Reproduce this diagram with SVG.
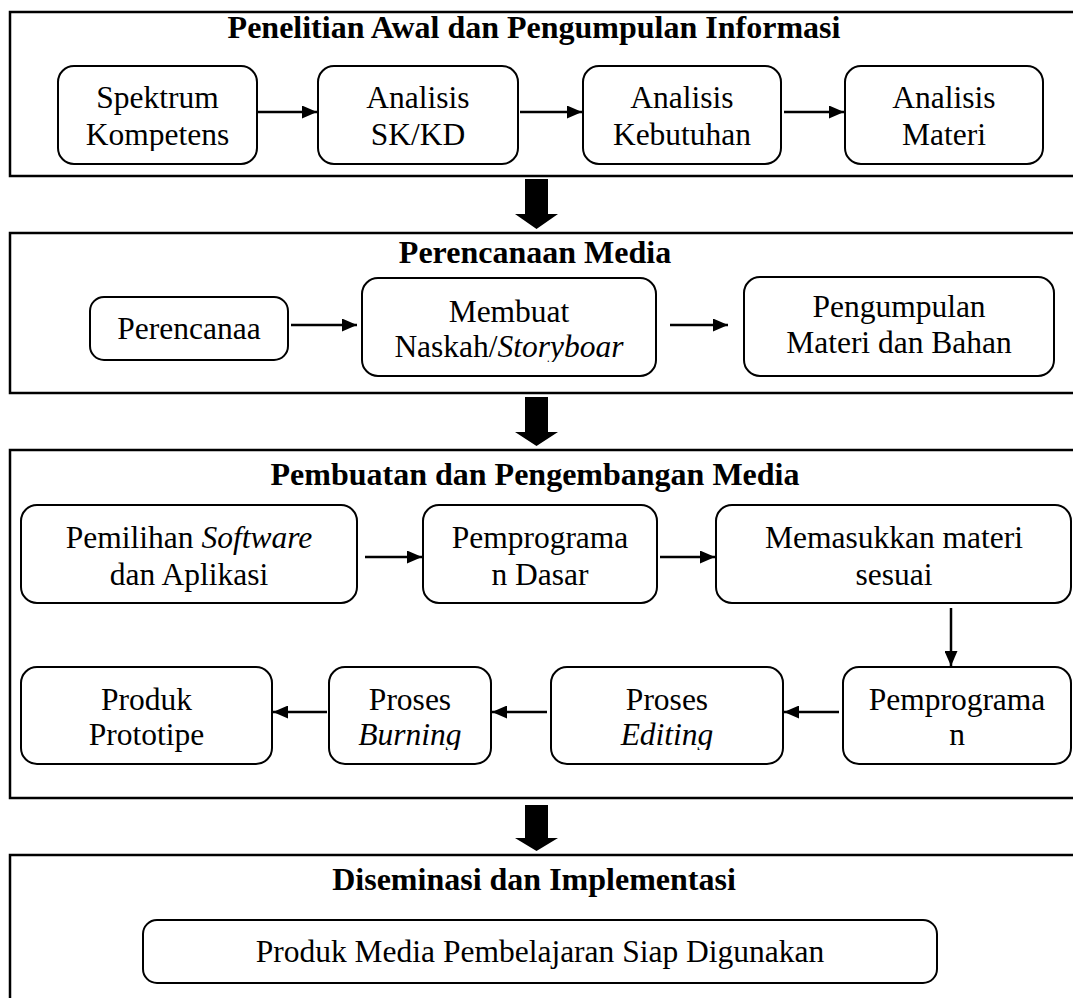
<svg xmlns="http://www.w3.org/2000/svg" width="1073" height="998" viewBox="0 0 1073 998">
<style>
.sec{fill:none;stroke:#000;stroke-width:2.5}
.box{fill:#fff;stroke:#000;stroke-width:2}
.t{font-family:"Liberation Serif","Times New Roman",serif;font-size:31.5px;fill:#000;text-anchor:middle}
.h{font-family:"Liberation Serif","Times New Roman",serif;font-size:32px;font-weight:bold;fill:#000;text-anchor:middle}
.i{font-style:italic}
.ln{fill:none;stroke:#000;stroke-width:2.5;marker-end:url(#ah)}
.big{fill:#000;stroke:none}
</style>
<defs>
<marker id="ah" markerWidth="15" markerHeight="13" refX="15" refY="6.5" orient="auto" markerUnits="userSpaceOnUse">
<path d="M0,0 L15,6.5 L0,13 z" fill="#000"/>
</marker>
<clipPath id="c1"><rect x="0" y="0" width="1073" height="151"/></clipPath>
<clipPath id="c2"><rect x="0" y="0" width="1073" height="362"/></clipPath>
<clipPath id="c3"><rect x="0" y="0" width="1073" height="750"/></clipPath>
</defs>
<rect width="1073" height="998" fill="#fff"/>

<g id="sec1">
<rect class="sec" x="10" y="12" width="1090" height="164"/>
<text class="h" x="534" y="38">Penelitian Awal dan Pengumpulan Informasi</text>
</g>
<g id="spektrum">
<rect class="box" x="58" y="66" width="199" height="98" rx="16"/>
<text class="t" x="157.5" y="108">Spektrum</text>
<text class="t" x="157.5" y="145" clip-path="url(#c1)">Kompetens</text>
</g>
<g id="sk-kd">
<rect class="box" x="318" y="66" width="200" height="98" rx="16"/>
<text class="t" x="418" y="108">Analisis</text>
<text class="t" x="418" y="145">SK/KD</text>
</g>
<g id="kebutuhan">
<rect class="box" x="583" y="66" width="198" height="98" rx="16"/>
<text class="t" x="682" y="108">Analisis</text>
<text class="t" x="682" y="145">Kebutuhan</text>
</g>
<g id="materi">
<rect class="box" x="845" y="66" width="198" height="98" rx="16"/>
<text class="t" x="944" y="108">Analisis</text>
<text class="t" x="944" y="145">Materi</text>
</g>

<g id="sec2">
<rect class="sec" x="10" y="233" width="1090" height="160"/>
<text class="h" x="535" y="263">Perencanaan Media</text>
</g>
<g id="perencanaan">
<rect class="box" x="90" y="297" width="198" height="63" rx="14"/>
<text class="t" x="189" y="339">Perencanaa</text>
</g>
<g id="naskah">
<rect class="box" x="362" y="278" width="294" height="98" rx="16"/>
<text class="t" x="509" y="322">Membuat</text>
<text class="t" x="509" y="357" clip-path="url(#c2)">Naskah/<tspan class="i">Storyboar</tspan></text>
</g>
<g id="pengumpulan">
<rect class="box" x="744" y="277" width="310" height="99" rx="16"/>
<text class="t" x="899" y="317">Pengumpulan</text>
<text class="t" x="899" y="353">Materi dan Bahan</text>
</g>

<g id="sec3">
<rect class="sec" x="10" y="450" width="1090" height="348"/>
<text class="h" x="535" y="485">Pembuatan dan Pengembangan Media</text>
</g>
<g id="software">
<rect class="box" x="21" y="505" width="336" height="98" rx="16"/>
<text class="t" x="189" y="548">Pemilihan <tspan class="i">Software</tspan></text>
<text class="t" x="189" y="585">dan Aplikasi</text>
</g>
<g id="dasar">
<rect class="box" x="423" y="505" width="234" height="98" rx="16"/>
<text class="t" x="540" y="548">Pemprograma</text>
<text class="t" x="540" y="585">n Dasar</text>
</g>
<g id="memasukkan">
<rect class="box" x="716" y="505" width="355" height="98" rx="16"/>
<text class="t" x="894" y="548">Memasukkan materi</text>
<text class="t" x="894" y="585">sesuai</text>
</g>
<g id="pemprograman">
<rect class="box" x="843" y="667" width="228" height="97" rx="16"/>
<text class="t" x="957" y="710">Pemprograma</text>
<text class="t" x="957" y="745">n</text>
</g>
<g id="editing">
<rect class="box" x="551" y="667" width="232" height="97" rx="16"/>
<text class="t" x="667" y="710">Proses</text>
<text class="t i" x="667" y="745" clip-path="url(#c3)">Editing</text>
</g>
<g id="burning">
<rect class="box" x="329" y="667" width="162" height="97" rx="16"/>
<text class="t" x="410" y="710">Proses</text>
<text class="t i" x="410" y="745" clip-path="url(#c3)">Burning</text>
</g>
<g id="prototipe">
<rect class="box" x="21" y="667" width="251" height="97" rx="16"/>
<text class="t" x="146.5" y="710">Produk</text>
<text class="t" x="146.5" y="745">Prototipe</text>
</g>

<g id="sec4">
<rect class="sec" x="10" y="855" width="1090" height="160"/>
<text class="h" x="534" y="890">Diseminasi dan Implementasi</text>
</g>
<g id="produk-siap">
<rect class="box" x="143" y="920" width="794" height="63" rx="14"/>
<text class="t" x="540" y="962">Produk Media Pembelajaran Siap Digunakan</text>
</g>

<g id="connectors">
<line class="ln" x1="258" y1="112" x2="317" y2="112"/>
<line class="ln" x1="520" y1="112" x2="582" y2="112"/>
<line class="ln" x1="784" y1="112" x2="844" y2="112"/>
<line class="ln" x1="291" y1="325" x2="357" y2="325"/>
<line class="ln" x1="670" y1="325" x2="728" y2="325"/>
<line class="ln" x1="365" y1="557" x2="422" y2="557"/>
<line class="ln" x1="660" y1="557" x2="715" y2="557"/>
<line class="ln" x1="951" y1="608" x2="951" y2="666"/>
<line class="ln" x1="839" y1="712" x2="784" y2="712"/>
<line class="ln" x1="547" y1="712" x2="492" y2="712"/>
<line class="ln" x1="327" y1="712" x2="273" y2="712"/>
<polygon class="big" points="525,179 548,179 548,214 558,214 536.5,229 515,214 525,214"/>
<polygon class="big" points="525,397 548,397 548,432 558,432 536.5,446 515,432 525,432"/>
<polygon class="big" points="525,805 548,805 548,838 558,838 536.5,851 515,838 525,838"/>
</g>
</svg>
